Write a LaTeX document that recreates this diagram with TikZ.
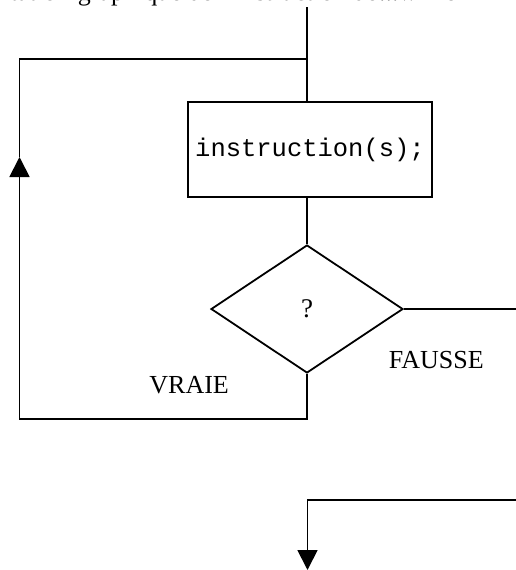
\documentclass[tikz,border=0pt]{standalone}
\usepackage{fontspec}
\setmainfont{Liberation Serif}
\setmonofont{Liberation Mono}
\usetikzlibrary{shapes.geometric,arrows.meta}
\begin{document}
\begin{tikzpicture}[x=1pt,y=-1pt, line width=1.8pt,
  tip/.style={-{Triangle[width=20pt,length=20pt]}},
  lbl/.style={font=\fontsize{26}{31}\selectfont, inner sep=0pt},
  stepbox/.style={draw, minimum width=244pt, minimum height=95pt, inner sep=0pt, font=\fontsize{25.5}{30}\selectfont\ttfamily},
  test/.style={draw, diamond, minimum width=192pt, minimum height=128pt, inner sep=0pt, font=\fontsize{27}{32}\selectfont}]
\useasboundingbox (0,0) rectangle (516,570);
% caption line (cut off at the top)
\node[lbl, anchor=base west] (cap2) at (77,0.5) {graphique de l'instruction do...while};
\node[lbl, anchor=base east] (cap1) at ([xshift=-6.5pt]cap2.base west) {Représentation};
% flowchart
\coordinate (top) at (307,7);
\node[stepbox] (box) at (310,149.5) {instruction(s);};
\node[test] (q) at (307,309) {?};
\coordinate (loopbot) at (19.5,419);
\coordinate (looptop) at (19.5,59);
\coordinate (uptip) at (19.5,157);
\coordinate (right) at (516,309);
\coordinate (right2) at (516,500);
\coordinate (corner) at (307.5,500);
\coordinate (end) at (307.5,570);
\draw (top) -- (top |- box.north);
\draw (box.south -| top) -- (q.north);
\draw (q.east) -- (right);
\draw[tip] (q.south) -- (q.south |- loopbot) -- (loopbot) -- (uptip);
\draw (uptip) -- (looptop) -- (looptop -| top);
\draw[tip] (right2) -- (corner) -- (end);
\node[lbl, anchor=base west] (f) at (388,368.5) {FAUSSE};
\node[lbl, anchor=base west] (v) at (148.5,393) {VRAIE};
\end{tikzpicture}
\end{document}
